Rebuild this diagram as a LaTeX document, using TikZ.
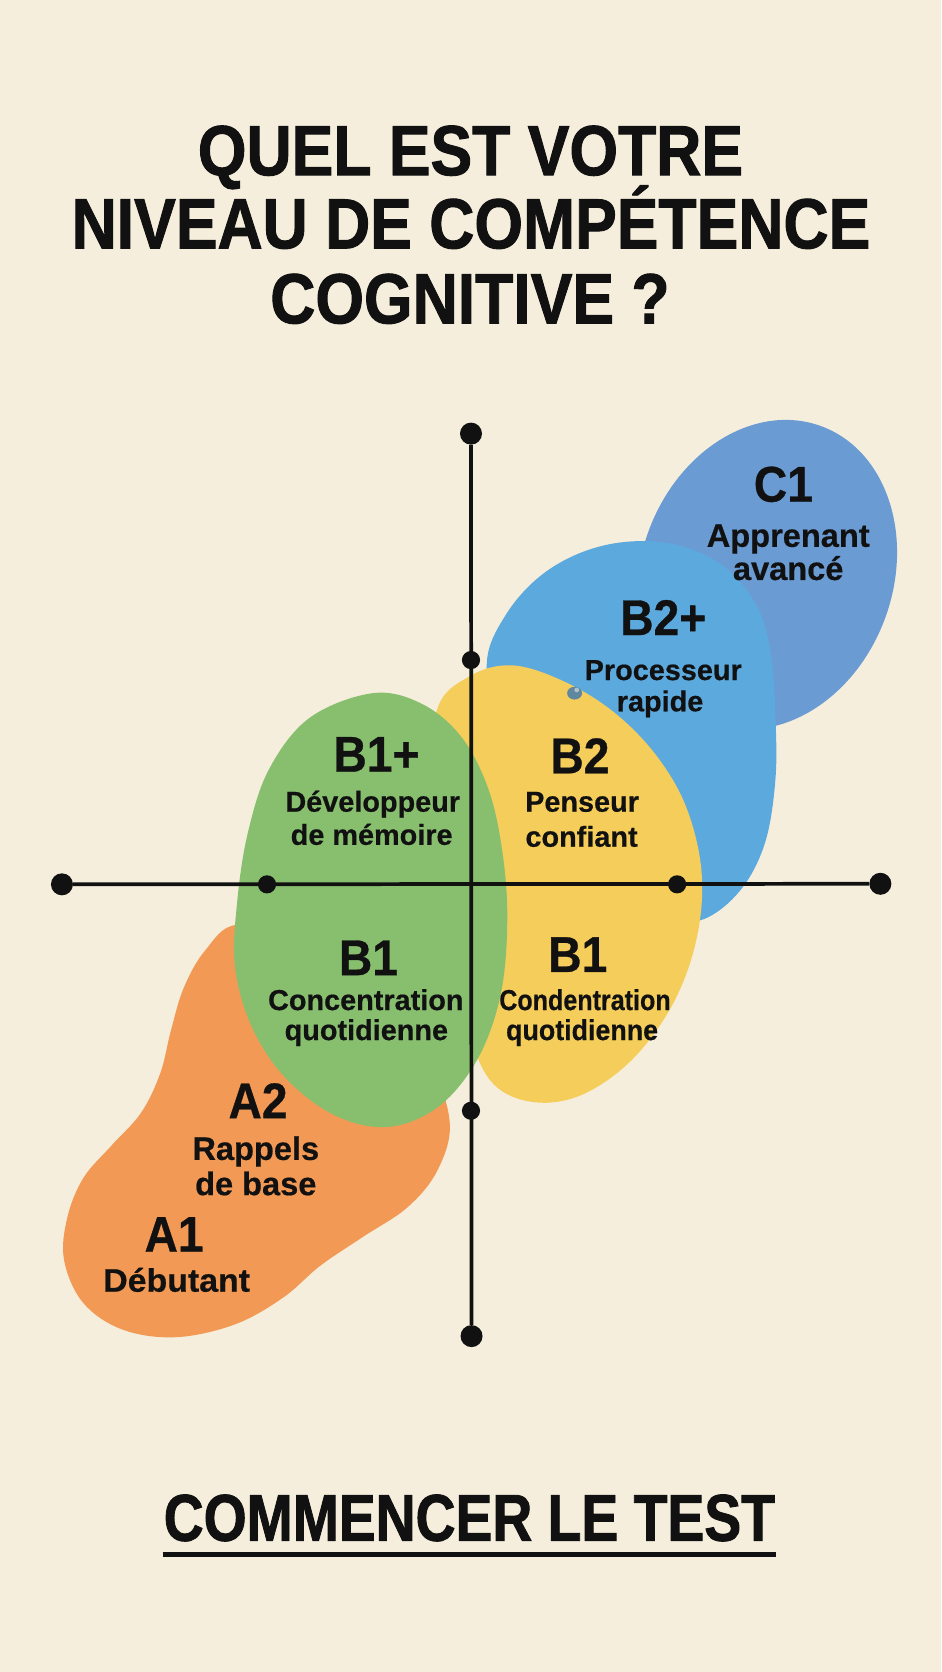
\documentclass[tikz,border=0pt]{standalone}
\usepackage{fontspec}
\setmainfont{Liberation Sans}
\newfontfamily\titlef[FakeStretch=0.88,FakeBold=1.3]{Liberation Sans}
\newfontfamily\btnf[FakeStretch=0.835,FakeBold=1.3]{Liberation Sans}
\newfontfamily\bigf[FakeStretch=0.92,FakeBold=0.6]{Liberation Sans}
\newfontfamily\lblf[FakeBold=0.5]{Liberation Sans}
\definecolor{bgc}{HTML}{F5EEDC}
\definecolor{inkc}{HTML}{111111}
\definecolor{cone}{HTML}{6A9BD3}
\definecolor{btwop}{HTML}{5CA9DE}
\definecolor{yel}{HTML}{F5CD5B}
\definecolor{grn}{HTML}{88BF6F}
\definecolor{orng}{HTML}{F29A55}
\definecolor{dropc}{HTML}{5F88A0}
\tikzset{
  ttl/.style={anchor=base, inner sep=0, text=inkc, font=\titlef\bfseries\fontsize{66.5}{70}\selectfont},
  btn/.style={anchor=base, inner sep=0, text=inkc, font=\btnf\bfseries\fontsize{62}{66}\selectfont},
  lvl/.style={anchor=base, inner sep=0, text=inkc, font=\bigf\bfseries\fontsize{47}{50}\selectfont},
  dsc/.style={anchor=base, inner sep=0, text=inkc, font=\lblf\bfseries\fontsize{27}{30}\selectfont},
  dscl/.style={anchor=base, inner sep=0, text=inkc, font=\lblf\bfseries\fontsize{30.5}{33}\selectfont},
  enddot/.style={circle, fill=inkc, inner sep=0, minimum size=20.6},
  middot/.style={circle, fill=inkc, inner sep=0, minimum size=17},
  axisline/.style={draw=inkc, line width=3.5},
  blob/.style={smooth cycle, tension=0.6},
}
\begin{document}
\begin{tikzpicture}[x=1pt, y=-1pt]
\useasboundingbox (0,0) rectangle (881.1,1565.5);
\fill[bgc] (0,0) rectangle (881.1,1565.5);

% title
\node[ttl] (t1) at (440.5,164) {QUEL EST VOTRE};
\node[ttl] (t2) at (441,232.5) {NIVEAU DE COMPÉTENCE};
\node[ttl] (t3) at (440,302.7) {COGNITIVE ?};

% blobs
\fill[cone, rotate around={-20:(718,538)}] (718,538) ellipse [x radius=118, y radius=148];
\fill[btwop] plot[blob] coordinates {(456,618) (474,575) (505,540) (545,517) (590,507) (637,511) (680,532) (710,570) (722,615) (726,670) (726,730) (716,790) (692,835) (655,862) (610,860) (560,820) (505,750) (465,675)};
\fill[yel] plot[blob] coordinates {(409,665) (440,633) (480,623) (528,638) (575,667) (615,708) (643,757) (657,818) (652,880) (630,940) (592,992) (545,1025) (500,1032) (462,1015) (440,970) (425,900) (412,830) (404,750)};
\fill[orng] plot[blob] coordinates {(222,866) (192,890) (172,925) (160,965) (150,1005) (132,1042) (104,1073) (78,1103) (63,1140) (60,1180) (78,1220) (115,1245) (165,1252) (220,1240) (265,1215) (300,1185) (340,1158) (382,1130) (410,1095) (421,1050) (400,995) (340,930) (280,885)};
\fill[grn] plot[blob] coordinates {(349,649) (395,659) (432,690) (457,738) (470,795) (475,860) (469,930) (448,990) (412,1035) (365,1055) (315,1045) (268,1010) (236,962) (220,905) (222,845) (232,780) (252,720) (290,672)};
% small droplet
\fill[dropc] (538,649) ellipse [x radius=7, y radius=6];
\fill[white, opacity=0.5] (540,646) circle [radius=2.2];

% axes
\node[enddot] (vt) at (441,406) {};
\node[enddot] (vb) at (441.5,1251) {};
\node[enddot] (hl) at (58,828) {};
\node[enddot] (hr) at (824.3,827.5) {};
\node[middot] (vm1) at (441,618) {};
\node[middot] (vm2) at (441,1040) {};
\node[middot] (hm1) at (250,828) {};
\node[middot] (hm2) at (634,828) {};
\draw[axisline] (vt) -- (vb);
\draw[axisline] (hl) -- (hr);

% labels
\node[lvl] (c1) at (733.5,469.7) {C1};
\node[dscl] (c1a) at (738,512) {Apprenant};
\node[dscl] (c1b) at (738,543) {avancé};

\node[lvl] (b2p) at (621,594.6) {B2+};
\node[dsc] (b2pa) at (621,636.7) {Processeur};
\node[dsc] (b2pb) at (618,666) {rapide};

\node[lvl] (b1p) at (352.5,722.5) {B1+};
\node[dsc] (b1pa) at (349,760) {Développeur};
\node[dsc] (b1pb) at (348,791) {de mémoire};

\node[lvl] (b2) at (543,724) {B2};
\node[dsc] (b2a) at (545,760) {Penseur};
\node[dsc] (b2b) at (544.5,792.8) {confiant};

\node[lvl] (b1l) at (345,913) {B1};
\node[dsc] (b1la) at (342.5,945.7) {Concentration};
\node[dsc] (b1lb) at (343,973.8) {quotidienne};

\node[lvl] (b1r) at (541,910) {B1};
\node[dsc] (b1ra) at (547.7,945.7) {\scalebox{0.87}[1]{Condentration}};
\node[dsc] (b1rb) at (545,973.8) {\scalebox{0.93}[1]{quotidienne}};

\node[lvl] (a2) at (241.6,1047) {A2};
\node[dscl] (a2a) at (239.5,1086) {Rappels};
\node[dscl] (a2b) at (239.5,1119) {de base};

\node[lvl] (a1) at (163,1172) {A1};
\node[dscl] (a1a) at (165.4,1209.4) {\scalebox{1.04}[1]{Débutant}};

% button
\node[btn] (go) at (439.5,1442.6) {COMMENCER LE TEST};
\coordinate (ul1) at (152.3,1455.5);
\coordinate (ul2) at (727,1455.5);
\draw[draw=inkc, line width=4.5] (ul1) -- (ul2);
\end{tikzpicture}
\end{document}
